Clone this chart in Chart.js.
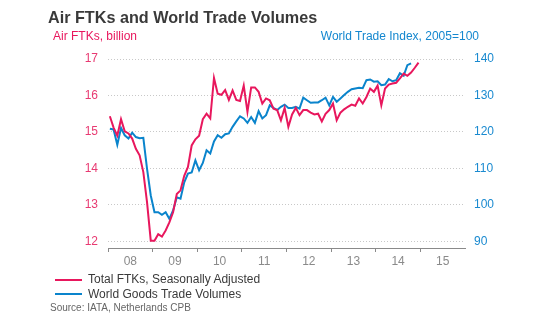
<!DOCTYPE html>
<html>
<head>
<meta charset="utf-8">
<script src="https://cdn.jsdelivr.net/npm/chart.js@4.4.1/dist/chart.umd.min.js"></script>
<style>
  html, body { margin: 0; padding: 0; background: #fff; }
  #wrap { position: relative; width: 550px; height: 325px; font-family: "Liberation Sans", Arial, sans-serif; }
  #c { position: absolute; left: 0; top: 0; }
  .t { position: absolute; white-space: nowrap; line-height: 1; }
  #title { left: 48px; top: 9px; font-size: 16.2px; font-weight: bold; color: #3a3a3a; }
  #lt { left: 53px; top: 30px; font-size: 12px; color: #e8175d; }
  #rt { right: 71px; top: 30px; font-size: 12px; color: #1487cf; }
  .lg { position: absolute; left: 55px; width: 27px; height: 2px; }
  .lgt { left: 88px; font-size: 12px; color: #3a3a3a; }
  #src { left: 50px; top: 303px; font-size: 10px; color: #666; }
</style>
</head>
<body>
<div id="wrap">
  <canvas id="c" width="550" height="325"></canvas>
  <div class="t" id="title">Air FTKs and World Trade Volumes</div>
  <div class="t" id="lt">Air FTKs, billion</div>
  <div class="t" id="rt">World Trade Index, 2005=100</div>
  <div class="lg" style="top:278.5px;background:#e8175d"></div>
  <div class="t lgt" style="top:273px">Total FTKs, Seasonally Adjusted</div>
  <div class="lg" style="top:293px;background:#0a84cc"></div>
  <div class="t lgt" style="top:287.5px">World Goods Trade Volumes</div>
  <div class="t" id="src">Source: IATA, Netherlands CPB</div>
</div>
<script>
// Monthly data, Jan 2008 onwards
const startYear = 2008;
const yearLabels = ['08','09','10','11','12','13','14','15'];
const leftTicks = [12, 13, 14, 15, 16, 17];
const rightTicks = [90, 100, 110, 120, 130, 140];

const ftks = [
  15.43, 15.12, 14.90, 15.35, 15.02, 14.96, 14.82, 14.54, 14.36, 13.90, 13.07, 12.02,
  12.02, 12.20, 12.13, 12.30, 12.52, 12.80, 13.30, 13.40, 13.80, 14.04, 14.63, 14.80,
  14.90, 15.35, 15.50, 15.37, 16.48, 16.05, 16.02, 16.15, 15.88, 16.14, 15.88, 15.85,
  16.27, 15.55, 16.22, 16.22, 16.10, 15.78, 15.92, 15.87, 15.64, 15.60, 15.32, 15.66,
  15.14, 15.48, 15.66, 15.46, 15.60, 15.60, 15.53, 15.48, 15.50, 15.29, 15.50, 15.60,
  15.78, 15.32, 15.53, 15.62, 15.69, 15.75, 15.72, 15.92, 15.78, 15.96, 16.19, 16.10,
  16.27, 15.73, 16.19, 16.30, 16.33, 16.35, 16.47, 16.60, 16.54, 16.63, 16.76, 16.90
];

const trade = [
  120.9, 120.7, 116.5, 121.1, 119.1, 118.2, 119.8, 118.6, 118.3, 118.4, 109.9, 102.6,
  98.0, 98.0, 97.3, 98.0, 96.2, 98.5, 102.1, 101.7, 106.2, 108.6, 108.9, 112.2,
  109.5, 111.5, 115.0, 114.1, 117.4, 119.1, 118.4, 119.4, 119.6, 121.4, 122.9, 124.3,
  123.7, 122.5, 124.1, 122.5, 125.7, 123.7, 124.6, 127.3, 126.6, 126.0, 126.9, 127.5,
  126.6, 126.6, 126.9, 126.4, 129.4, 128.7, 128.0, 128.1, 128.1, 128.7, 129.4, 127.3,
  129.6, 128.3, 129.2, 130.1, 131.0, 131.7, 131.9, 132.1, 132.0, 134.2, 134.4, 133.8,
  133.9, 132.8, 133.0, 134.5, 133.9, 134.2, 136.1, 135.4, 138.3, 138.8
];

const RED = '#e8175d';
const BLUE = '#0a84cc';

const redPts = ftks.map((v, i) => ({ x: i + 0.5, y: v }));
const bluePts = trade.map((v, i) => ({ x: i + 0.5, y: v }));

const monthsTotal = yearLabels.length * 12;

new Chart(document.getElementById('c'), {
  type: 'line',
  data: {
    datasets: [
      { label: 'World Goods Trade Volumes', data: bluePts, yAxisID: 'yR', borderColor: BLUE, borderWidth: 2, pointRadius: 0, tension: 0, order: 2 },
      { label: 'Total FTKs, Seasonally Adjusted', data: redPts, yAxisID: 'yL', borderColor: RED, borderWidth: 2, pointRadius: 0, tension: 0, order: 1 }
    ]
  },
  options: {
    responsive: false,
    animation: false,
    events: [],
    layout: { padding: { left: 0, right: 0, top: 59, bottom: 0 } },
    plugins: { legend: { display: false }, tooltip: { enabled: false } },
    scales: {
      x: {
        type: 'linear',
        min: 0,
        max: monthsTotal,
        afterBuildTicks: s => {
          const t = [];
          for (let v = 0; v < monthsTotal; v += 6) t.push({ value: v });
          s.ticks = t;
        },
        afterFit: s => { s.height = 77; },
        ticks: {
          autoSkip: false, maxRotation: 0, padding: 2,
          color: '#8a8a8a',
          font: { family: 'Liberation Sans', size: 12 },
          callback: v => (v % 12 === 6 ? yearLabels[(v - 6) / 12] : '')
        },
        grid: {
          drawOnChartArea: false, drawTicks: true, tickLength: 4,
          tickColor: ctx => (ctx.tick && ctx.tick.value % 12 === 0 ? '#8a8a8a' : 'rgba(0,0,0,0)')
        },
        border: { display: true, color: '#8a8a8a', width: 1 }
      },
      yL: {
        position: 'left',
        min: 11.82,
        max: 17,
        afterBuildTicks: s => { s.ticks = leftTicks.map(v => ({ value: v })); },
        afterFit: s => { s.width = 108; },
        ticks: { color: '#e83a72', padding: 10, font: { family: 'Liberation Sans', size: 12 } },
        grid: { drawTicks: false, color: '#c8c8c8', lineWidth: 1 },
        border: { display: false, dash: [1, 2] }
      },
      yR: {
        position: 'right',
        min: 88.2,
        max: 140,
        afterBuildTicks: s => { s.ticks = rightTicks.map(v => ({ value: v })); },
        afterFit: s => { s.width = 85; },
        ticks: { color: '#1a8ad0', padding: 9, font: { family: 'Liberation Sans', size: 12 } },
        grid: { drawOnChartArea: false, drawTicks: false },
        border: { display: false }
      }
    }
  }
});
</script>
</body>
</html>
